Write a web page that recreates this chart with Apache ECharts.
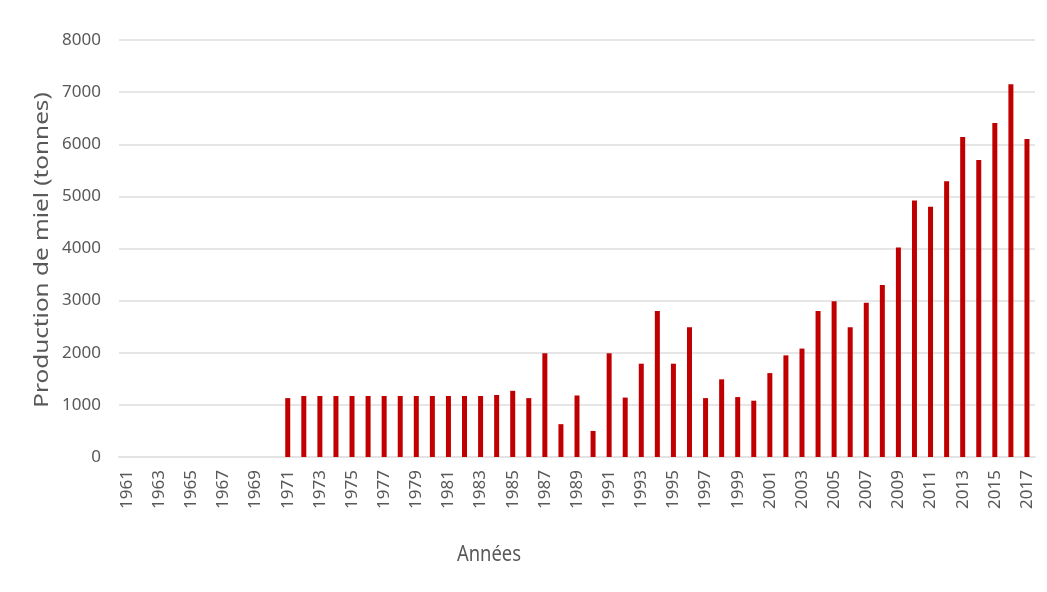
<!DOCTYPE html>
<html>
<head>
<meta charset="utf-8">
<script src="https://cdn.jsdelivr.net/npm/echarts@6/dist/echarts.min.js"></script>
<style>
  html, body { margin: 0; padding: 0; background: #ffffff; }
  #chart { width: 1047px; height: 592px; }
</style>
</head>
<body>
<div id="chart"></div>
<script>
// Années 1961–2017
const years = [];
for (let y = 1961; y <= 2017; y++) years.push(String(y));

// Production de miel (tonnes); no recorded value before 1971
const production = [
  null, null, null, null, null, null, null, null, null, null,      // 1961–1970
  1130, 1170, 1170, 1170, 1170, 1170, 1170, 1170, 1170, 1170,      // 1971–1980
  1170, 1170, 1170, 1190, 1270, 1130, 1990, 630, 1180, 500,        // 1981–1990
  1990, 1140, 1790, 2800, 1790, 2490, 1130, 1490, 1150, 1080,      // 1991–2000
  1610, 1950, 2080, 2800, 2990, 2490, 2960, 3300, 4020, 4920,      // 2001–2010
  4800, 5290, 6140, 5700, 6410, 7150, 6100                         // 2011–2017
];

const yTicks = { min: 0, max: 8000, interval: 1000 };

const yTitle = 'Production de miel (tonnes)';
const xTitle = 'Années';

const textColor = '#595959';
const fontFamily = '"Noto Sans", "Open Sans", sans-serif';

const chart = echarts.init(document.getElementById('chart'), null, { renderer: 'canvas' });
chart.setOption({
  backgroundColor: '#ffffff',
  animation: false,
  grid: { left: 119, right: 12, top: 40, bottom: 135, containLabel: false },
  xAxis: {
    type: 'category',
    data: years,
    boundaryGap: true,
    axisLine: { show: true, lineStyle: { color: '#e3e3e3', width: 2 } },
    axisTick: { show: false },
    axisLabel: {
      interval: 1,
      rotate: 90,
      margin: 13,
      color: textColor,
      fontSize: 17,
      fontFamily: fontFamily
    }
  },
  yAxis: {
    type: 'value',
    min: yTicks.min,
    max: yTicks.max,
    interval: yTicks.interval,
    axisLine: { show: false },
    axisTick: { show: false },
    axisLabel: {
      color: textColor,
      fontSize: 17,
      fontFamily: fontFamily,
      margin: 18,
      formatter: (v) => String(v)
    },
    splitLine: { lineStyle: { color: '#e6e6e6', width: 2 } }
  },
  // Axis titles, slightly elongated along their reading direction
  graphic: [
    {
      type: 'text',
      x: 43,
      y: 250,
      rotation: Math.PI / 2,
      scaleX: 1.28,
      scaleY: 1.0,
      style: {
        text: yTitle,
        fill: textColor,
        font: '19px ' + fontFamily,
        align: 'center',
        verticalAlign: 'middle'
      }
    },
    {
      type: 'text',
      x: 489,
      y: 555,
      scaleX: 0.97,
      scaleY: 1.15,
      style: {
        text: xTitle,
        fill: textColor,
        font: '19px ' + fontFamily,
        align: 'center',
        verticalAlign: 'middle'
      }
    }
  ],
  series: [{
    type: 'bar',
    data: production,
    barWidth: 5,
    itemStyle: { color: '#c00000' }
  }]
});
</script>
</body>
</html>
